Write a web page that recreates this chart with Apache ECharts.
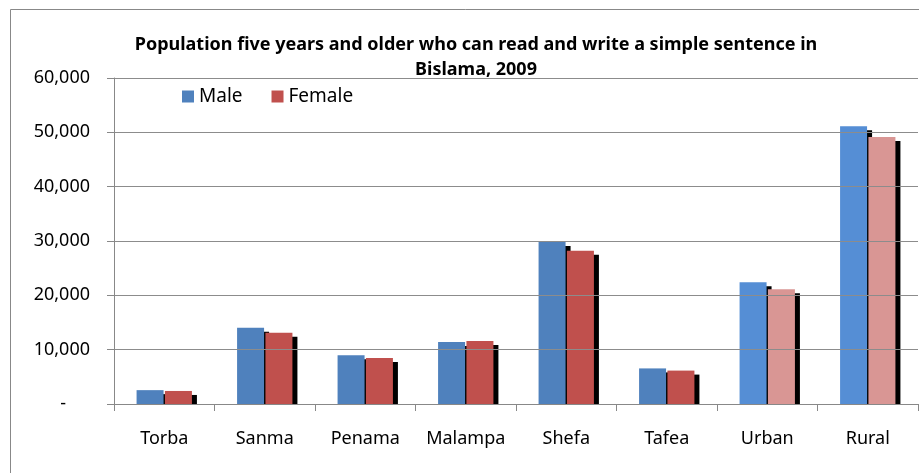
<!DOCTYPE html>
<html>
<head>
<meta charset="utf-8">
<script src="https://cdn.jsdelivr.net/npm/echarts@6/dist/echarts.min.js"></script>
<style>
html,body{margin:0;padding:0;background:#fff;}
#chart{width:919px;height:473px;}
</style>
</head>
<body>
<div id="chart"></div>
<script>
const categories = ['Torba', 'Sanma', 'Penama', 'Malampa', 'Shefa', 'Tafea', 'Urban', 'Rural'];
const maleValues = [2550, 14050, 8950, 11400, 29800, 6550, 22400, 51100];
const femaleValues = [2400, 13100, 8450, 11600, 28200, 6150, 21100, 49150];
const yTicks = [0, 10000, 20000, 30000, 40000, 50000, 60000];
const titleLines = ['Population five years and older who can read and write a simple sentence in', 'Bislama, 2009'];

const FONT = '"Noto Sans", "Open Sans", sans-serif';
const highlight = ['Urban', 'Rural'];
const maleColor = '#4F81BD', maleLight = '#558ED5';
const femaleColor = '#C0504D', femaleLight = '#D99694';

function build(values, base, light) {
  return values.map((v, i) => ({
    value: v,
    itemStyle: { color: highlight.includes(categories[i]) ? light : base }
  }));
}
const shadow = { shadowColor: '#000', shadowBlur: 0, shadowOffsetX: 5, shadowOffsetY: 4 };
const GRID = { left: 114, right: 1, top: 78, bottom: 69 };

const chart = echarts.init(document.getElementById('chart'));
const option = {
  animation: false,
  backgroundColor: '#fff',
  textStyle: { fontFamily: FONT },
  title: {
    text: titleLines.join('\n'),
    left: 471, top: 27, textAlign: 'center',
    textStyle: { fontFamily: FONT, fontWeight: 'bold', fontSize: 18, lineHeight: 25, color: '#000' }
  },
  legend: {
    left: 182, top: 87, padding: 0,
    itemWidth: 12, itemHeight: 12, itemGap: 29,
    icon: 'rect',
    textStyle: { fontFamily: FONT, fontSize: 19, color: '#000' },
    data: ['Male', 'Female']
  },
  graphic: [{
    type: 'rect', silent: true,
    shape: { x: 10.5, y: 9.5, width: 1000, height: 1000 },
    style: { fill: 'none', stroke: '#888', lineWidth: 1 }
  }],
  grid: Object.assign({ containLabel: false }, GRID),
  xAxis: {
    type: 'category', data: categories, z: 10,
    axisLine: { lineStyle: { color: '#888' } },
    axisTick: { show: true, length: 7, lineStyle: { color: '#888' } },
    axisLabel: { interval: 0, fontFamily: FONT, fontSize: 18, color: '#000', margin: 26 }
  },
  yAxis: {
    type: 'value', min: yTicks[0], max: yTicks[yTicks.length - 1], interval: yTicks[1] - yTicks[0], z: 10,
    axisLine: { show: true, lineStyle: { color: '#888' } },
    axisTick: { show: true, length: 7, lineStyle: { color: '#888' } },
    splitLine: { lineStyle: { color: '#8c8c8c' } },
    axisLabel: {
      fontFamily: FONT, fontSize: 18, color: '#000', margin: 24,
      formatter: v => v === 0 ? '{z|-}' : v.toLocaleString('en-US'),
      rich: { z: { fontFamily: FONT, fontSize: 18, color: '#000', padding: [0, 24, 0, 0] } }
    }
  },
  series: [
    { name: 'Male', type: 'bar', barWidth: 27, barGap: '5%', itemStyle: Object.assign({ color: maleColor }, shadow), data: build(maleValues, maleColor, maleLight) },
    { name: 'Female', type: 'bar', barWidth: 27, barGap: '5%', itemStyle: Object.assign({ color: femaleColor }, shadow), data: build(femaleValues, femaleColor, femaleLight) }
  ]
};
chart.setOption(option);
// mask the part of the bar shadows that would fall below the baseline
const baseY = chart.convertToPixel({ yAxisIndex: 0 }, 0);
option.graphic.push({
  type: 'rect', silent: true, z: 5,
  shape: { x: GRID.left + 1, y: Math.round(baseY) + 0.5, width: 919 - GRID.left, height: 8 },
  style: { fill: '#fff' }
});
chart.setOption({ graphic: option.graphic });
</script>
</body>
</html>
